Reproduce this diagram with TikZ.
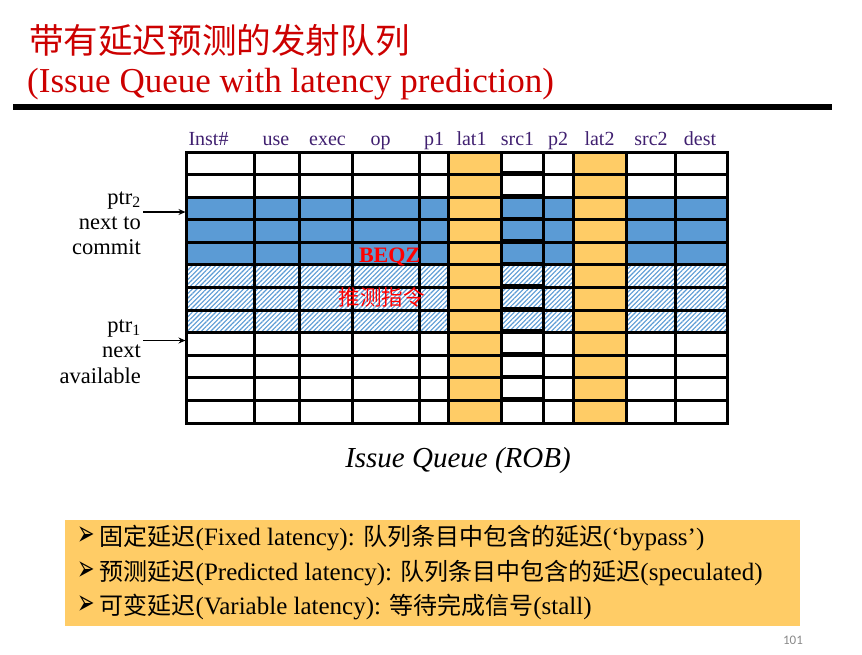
\documentclass[tikz,border=0pt]{standalone}
\usepackage{graphicx}
\usepackage{fontspec}
\setmainfont{Liberation Serif}
\newfontfamily\cjk{Noto Sans CJK SC}
\newfontfamily\dejavu{DejaVu Sans}
\newfontfamily\carlito{Carlito}
\usetikzlibrary{patterns.meta,arrows.meta}
\definecolor{qblue}{RGB}{91,155,213}
\definecolor{qorange}{RGB}{255,204,102}
\definecolor{titlered}{RGB}{204,0,0}
\definecolor{hdr}{RGB}{64,32,112}
\definecolor{pagegray}{RGB}{137,137,137}
\newcommand{\zhtxt}[1]{{\cjk\fontsize{24}{30}\selectfont #1}}
\newcommand{\bigbullet}{\scalebox{0.95}[1.6]{➢}}
\begin{document}
\begin{tikzpicture}[x=1pt,y=-1pt,
  grid/.style={line width=3pt, black},
  hdrlbl/.style={font=\fontsize{20}{20}\selectfont, text=hdr, anchor=base, inner sep=0pt},
  sidelbl/.style={font=\fontsize{22.5}{27}\selectfont, anchor=base east, inner sep=0pt},
  ptrarrow/.style={line width=1.4pt, -{Stealth[length=7pt,width=6pt]}},
  boxline/.style={font=\fontsize{25}{30}\selectfont, anchor=base west, inner sep=0pt},
  bulletmark/.style={font=\dejavu\fontsize{22}{24}\selectfont, anchor=base west, inner sep=0pt},
]
\useasboundingbox (0,0) rectangle (862,654);

% ---- title ----
\node[anchor=west, inner sep=0pt, font=\cjk\fontsize{34.6}{40}\selectfont, text=titlered] (titlezh) at (29,40) {带有延迟预测的发射队列};
\node[anchor=base west, inner sep=0pt, font=\fontsize{35}{40}\selectfont, text=titlered] (titleen) at (27,92) {(Issue Queue with latency prediction)};
\fill (13,103.5) rectangle (832,110);

% ---- table fills ----
\coordinate (tabNW) at (186,152);
\coordinate (tabSE) at (727,423);
\fill[qblue] (186,197.17) rectangle (727,264.92);
\fill[white] (186,264.92) rectangle (727,332.67);
\fill[pattern={Lines[angle=45,distance=3.3pt,line width=1.1pt]}, pattern color=qblue] (186,264.92) rectangle (727,332.67);
\fill[qorange] (448.5,152) rectangle (501.5,423);
\fill[qorange] (573.5,152) rectangle (626.5,423);

% ---- grid ----
\foreach \r in {0,...,12} {
  \draw[grid] (186,{152+22.583*\r}) -- (727,{152+22.583*\r});
}
\foreach \c in {186,254,299,352,419.5,448.5,501.5,543.5,573.5,626.5,675,727} {
  \draw[grid] (\c,152) -- (\c,423);
}
\foreach \r in {1,...,11} {
  \fill (501.5,{152+22.583*\r-3.2}) rectangle (543.5,{152+22.583*\r});
}
\draw[grid] (tabNW) rectangle (tabSE);

% ---- header labels ----
\node[hdrlbl] (hInst) at (208.5,145) {Inst\#};
\node[hdrlbl] (hUse)  at (276,145) {use};
\node[hdrlbl] (hExec) at (327.5,145) {exec};
\node[hdrlbl] (hOp)   at (380.5,145) {op};
\node[hdrlbl] (hPone) at (434,145) {p1};
\node[hdrlbl] (hLatone) at (471.5,145) {lat1};
\node[hdrlbl] (hSrcone) at (517.5,145) {src1};
\node[hdrlbl] (hPtwo) at (558,145) {p2};
\node[hdrlbl] (hLattwo) at (599.5,145) {lat2};
\node[hdrlbl] (hSrctwo) at (651,145) {src2};
\node[hdrlbl] (hDest) at (700,145) {dest};

% ---- in-table labels ----
\node[anchor=base, inner sep=0pt, font=\bfseries\fontsize{22}{22}\selectfont, text=red] (beqz) at (389.6,262.5) {BEQZ};
\node[inner sep=0pt, font=\cjk\fontsize{21.5}{22}\selectfont, text=red] (spec) at (381.5,297.5) {推测指令};

% ---- side labels ----
\node[sidelbl] (ptrtwo) at (141,204) {ptr\textsubscript{2}};
\node[sidelbl] (nextto) at (141,229) {next to};
\node[sidelbl] (commit) at (141,254) {commit};
\node[sidelbl] (ptrone) at (141,332) {ptr\textsubscript{1}};
\node[sidelbl] (nextav) at (141,357) {next};
\node[sidelbl] (avail)  at (141,383) {available};
\coordinate (ptrtwoTail) at (143,212);
\coordinate (ptrtwoHead) at (185.5,212);
\coordinate (ptroneTail) at (143,340.5);
\coordinate (ptroneHead) at (185.5,340.5);
\draw[ptrarrow] (ptrtwoTail) -- (ptrtwoHead);
\draw[ptrarrow] (ptroneTail) -- (ptroneHead);

% ---- caption ----
\node[anchor=base, inner sep=0pt, font=\itshape\fontsize{29}{30}\selectfont] (caption) at (458,467) {Issue Queue (ROB)};

% ---- bottom box ----
\node[fill=qorange, anchor=north west, inner sep=0pt, minimum width=735pt, minimum height=106pt] (notebox) at (65,520) {};
\node[bulletmark] (bA) at (77,545) {\bigbullet};
\node[bulletmark] (bB) at (77,580) {\bigbullet};
\node[bulletmark] (bC) at (77,614) {\bigbullet};
\node[boxline] (lA) at (99.5,545) {\zhtxt{固定延迟}(Fixed latency): \zhtxt{队列条目中包含的延迟}(‘bypass')};
\node[boxline] (lB) at (99.5,580) {\zhtxt{预测延迟}(Predicted latency): \zhtxt{队列条目中包含的延迟}(speculated)};
\node[boxline] (lC) at (99.5,614) {\zhtxt{可变延迟}(Variable latency): \zhtxt{等待完成信号}(stall)};

% ---- page number ----
\node[inner sep=0pt, font=\carlito\fontsize{13}{13}\selectfont, text=pagegray] (pagenum) at (793,640) {101};
\end{tikzpicture}
\end{document}
